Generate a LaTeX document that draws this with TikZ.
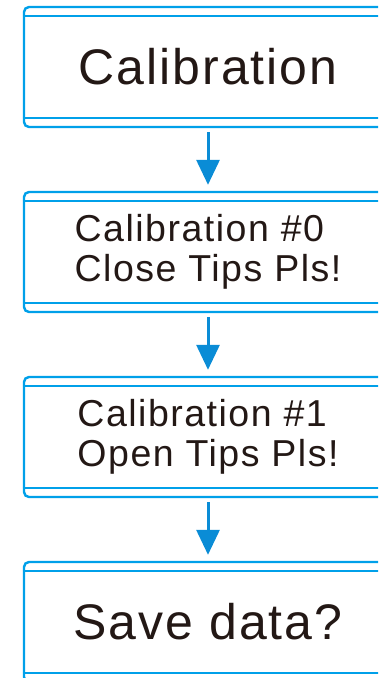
\documentclass[tikz,border=0pt]{standalone}
\usepackage{fontspec}
\setmainfont{Liberation Sans}[LetterSpace=4]
\usetikzlibrary{arrows.meta}
\definecolor{boxblue}{HTML}{00A0E9}
\definecolor{arrblue}{HTML}{0A8CD6}
\definecolor{txt}{HTML}{231815}
\tikzset{
  stepbox/.style={draw=boxblue, line width=2.4pt, rounded corners=5pt, fill=white,
    minimum width=368pt, minimum height=120pt, inner sep=0pt, text=txt, align=left},
  bigtext/.style={font=\fontsize{50}{55}\selectfont},
  smalltext/.style={font=\fontsize{37.5}{40}\selectfont},
  innerline/.style={draw=boxblue, line width=1.6pt},
  flow/.style={draw=arrblue, line width=3pt, -{Triangle[width=23pt,length=25pt]},
    shorten <=4pt, shorten >=6pt}
}
\begin{document}
\begin{tikzpicture}[x=1pt,y=-1pt]
\clip (0,0) rectangle (378,678);
\fill[white] (0,0) rectangle (378,678);
\node[stepbox, bigtext] (b1) at (208,67) {Calibration};
\node[stepbox, smalltext] (b2) at (208,252) {Calibration \#0\\Close Tips Pls!};
\node[stepbox, smalltext] (b3) at (208,437) {Calibration \#1\\Open Tips Pls!};
\node[stepbox, bigtext] (b4) at (208,622) {Save data?};
\foreach \b in {b1,b2,b3,b4}{
  \draw[innerline] ([yshift=-10pt]\b.north west) -- ([yshift=-10pt]\b.north east);
  \draw[innerline] ([yshift=10pt]\b.south west) -- ([yshift=10pt]\b.south east);
}
\draw[flow] (b1.south) -- (b2.north);
\draw[flow] (b2.south) -- (b3.north);
\draw[flow] (b3.south) -- (b4.north);
\end{tikzpicture}
\end{document}
